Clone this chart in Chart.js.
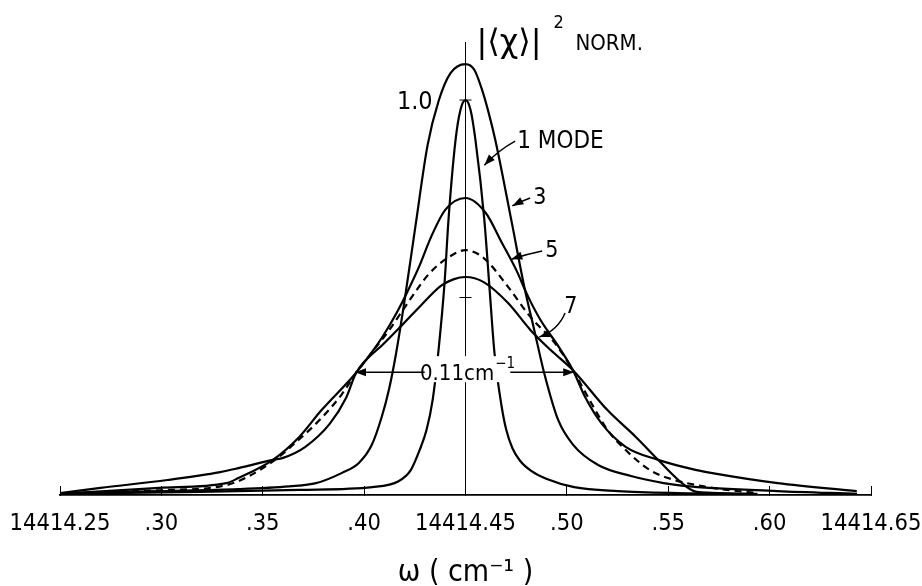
<!DOCTYPE html>
<html>
<head>
<meta charset="utf-8">
<script src="https://cdn.jsdelivr.net/npm/chart.js@4.4.0/dist/chart.umd.min.js"></script>
<style>
  html, body { margin: 0; padding: 0; background: #fff; }
</style>
</head>
<body>
<canvas id="chart" width="922" height="586"></canvas>
<script>
// axis ticks
const xTicks  = [14414.25, 14414.30, 14414.35, 14414.40, 14414.45, 14414.50, 14414.55, 14414.60, 14414.65];
const xLabels = ['14414.25', '.30', '.35', '.40', '14414.45', '.50', '.55', '.60', '14414.65'];
const yTicks  = [0.5, 1.0];
const yTickLabels = ['', '1.0'];

// 1 mode
const w1 = [14414.251, 14414.319, 14414.368, 14414.404, 14414.417, 14414.423, 14414.4274, 14414.4308, 14414.4338, 14414.4367, 14414.4397, 14414.4416, 14414.4451, 14414.4475, 14414.450, 14414.4525, 14414.4549, 14414.4593, 14414.4618, 14414.4643, 14414.4677, 14414.4701, 14414.4731, 14414.4770, 14414.4824, 14414.4898, 14414.5036, 14414.5252, 14414.5547, 14414.5891];
const v1 = [0.003, 0.008, 0.013, 0.020, 0.035, 0.063, 0.114, 0.165, 0.241, 0.367, 0.539, 0.696, 0.899, 0.975, 1.000, 0.975, 0.899, 0.696, 0.527, 0.359, 0.228, 0.165, 0.119, 0.086, 0.061, 0.041, 0.020, 0.010, 0.005, 0.003];

// 3 modes
const w3 = [14414.250, 14414.266, 14414.299, 14414.338, 14414.363, 14414.3763, 14414.3891, 14414.3974, 14414.4038, 14414.4087, 14414.4122, 14414.4156, 14414.4200, 14414.4254, 14414.4313, 14414.4367, 14414.4426, 14414.450, 14414.4544, 14414.4579, 14414.4613, 14414.4647, 14414.4726, 14414.4790, 14414.4839, 14414.4888, 14414.4957, 14414.5031, 14414.5154, 14414.5316, 14414.5478, 14414.5576, 14414.6038, 14414.6431];
const v3 = [0.003, 0.006, 0.010, 0.015, 0.022, 0.030, 0.056, 0.081, 0.127, 0.198, 0.266, 0.354, 0.494, 0.684, 0.886, 0.997, 1.068, 1.091, 1.076, 1.030, 0.970, 0.899, 0.696, 0.527, 0.418, 0.309, 0.190, 0.127, 0.076, 0.048, 0.030, 0.023, 0.010, 0.003];

// 5 modes
const w5 = [14414.250, 14414.270, 14414.303, 14414.329, 14414.338, 14414.355, 14414.360, 14414.371, 14414.383, 14414.391, 14414.396, 14414.402, 14414.409, 14414.416, 14414.421, 14414.427, 14414.433, 14414.440, 14414.450, 14414.460, 14414.468, 14414.475, 14414.481, 14414.487, 14414.496, 14414.503, 14414.509, 14414.517, 14414.529, 14414.545, 14414.564, 14414.571, 14414.604, 14414.643];
const v5 = [0.005, 0.018, 0.038, 0.058, 0.068, 0.089, 0.094, 0.122, 0.180, 0.245, 0.309, 0.349, 0.400, 0.461, 0.511, 0.577, 0.653, 0.722, 0.752, 0.714, 0.638, 0.570, 0.501, 0.443, 0.375, 0.316, 0.248, 0.182, 0.122, 0.089, 0.063, 0.056, 0.030, 0.010];

// 7 modes
const w7 = [14414.250, 14414.266, 14414.299, 14414.332, 14414.338, 14414.355, 14414.368, 14414.379, 14414.396, 14414.401, 14414.409, 14414.419, 14414.428, 14414.438, 14414.444, 14414.450, 14414.459, 14414.471, 14414.482, 14414.492, 14414.503, 14414.520, 14414.534, 14414.545, 14414.555, 14414.564, 14414.594];
const v7 = [0.003, 0.008, 0.018, 0.030, 0.043, 0.089, 0.147, 0.215, 0.309, 0.342, 0.380, 0.432, 0.480, 0.530, 0.546, 0.552, 0.539, 0.486, 0.418, 0.367, 0.316, 0.215, 0.147, 0.089, 0.038, 0.008, 0.003];

// dashed curve
const wD = [14414.250, 14414.299, 14414.332, 14414.355, 14414.366, 14414.379, 14414.389, 14414.396, 14414.404, 14414.412, 14414.422, 14414.432, 14414.442, 14414.450, 14414.459, 14414.471, 14414.482, 14414.494, 14414.503, 14414.512, 14414.520, 14414.529, 14414.541, 14414.553, 14414.564, 14414.579, 14414.594];
const vD = [0.003, 0.012, 0.025, 0.085, 0.132, 0.195, 0.255, 0.309, 0.362, 0.415, 0.490, 0.560, 0.603, 0.620, 0.600, 0.527, 0.451, 0.385, 0.316, 0.233, 0.165, 0.114, 0.063, 0.038, 0.025, 0.013, 0.005];

const FONT = '"DejaVu Sans Condensed", "DejaVu Sans", sans-serif';

const pts = (w, v) => w.map((x, i) => ({ x, y: v[i] }));

function arrow(c, x0, y0, cx, cy, x1, y1) {
  c.beginPath();
  c.moveTo(x0, y0);
  c.quadraticCurveTo(cx, cy, x1, y1);
  c.stroke();
  const a = Math.atan2(y1 - cy, x1 - cx);
  const L = 11, W = 4;
  c.beginPath();
  c.moveTo(x1, y1);
  c.lineTo(x1 - L * Math.cos(a) + W * Math.sin(a), y1 - L * Math.sin(a) - W * Math.cos(a));
  c.lineTo(x1 - L * Math.cos(a) - W * Math.sin(a), y1 - L * Math.sin(a) + W * Math.cos(a));
  c.closePath();
  c.fill();
}

// center axis + labels
const annot = {
  id: 'annot',
  beforeDatasetsDraw(chart) {
    const c = chart.ctx, xs = chart.scales.x, ys = chart.scales.y;
    const x0 = xs.getPixelForValue(14414.45);
    c.save();
    c.strokeStyle = '#000';
    c.lineWidth = 1;
    c.beginPath();
    c.moveTo(x0, ys.getPixelForValue(ys.max));
    c.lineTo(x0, ys.getPixelForValue(0));
    c.stroke();
    yTicks.forEach((v, i) => {
      const y = ys.getPixelForValue(v);
      c.beginPath();
      c.moveTo(x0 - 6, y);
      c.lineTo(x0 + 6, y);
      c.stroke();
      if (yTickLabels[i]) {
        c.fillStyle = '#000';
        c.font = '25px ' + FONT;
        c.textAlign = 'right';
        c.textBaseline = 'middle';
        c.fillText(yTickLabels[i], xs.getPixelForValue(14414.4338), y + 2);
      }
    });
    c.restore();
  },
  afterDatasetsDraw(chart) {
    const c = chart.ctx, xs = chart.scales.x, ys = chart.scales.y;
    const P = (w, v) => [xs.getPixelForValue(14414 + w), ys.getPixelForValue(v)];
    c.save();
    c.fillStyle = '#000';
    c.strokeStyle = '#000';
    c.lineWidth = 1.5;
    c.textBaseline = 'alphabetic';
    c.textAlign = 'left';

    // y-axis title
    let [tx, ty] = P(0.4554, 1.122);
    c.font = '32px "DejaVu Sans", sans-serif';
    const head = '|⟨χ⟩|';
    c.fillText(head, tx, ty);
    const hw = c.measureText(head).width;
    c.font = '18px ' + FONT;
    c.fillText('2', tx + hw + 12, ty - 24);
    c.font = '22px ' + FONT;
    c.fillText('NORM.', tx + hw + 34, ty - 2);

    // curve labels
    c.font = '24px ' + FONT;
    [tx, ty] = P(0.4755, 0.878); c.fillText('1 MODE', tx, ty);
    c.font = '23px ' + FONT;
    [tx, ty] = P(0.4834, 0.737); c.fillText('3', tx, ty);
    [tx, ty] = P(0.4893, 0.603); c.fillText('5', tx, ty);
    [tx, ty] = P(0.4987, 0.461); c.fillText('7', tx, ty);

    const A = (a, b, m, d, e, f) => {
      const p0 = P(a, b), p1 = P(m, d), p2 = P(e, f);
      arrow(c, p0[0], p0[1], p1[0], p1[1], p2[0], p2[1]);
    };
    A(0.4745, 0.896, 0.4662, 0.873, 0.4593, 0.835);
    A(0.4819, 0.752, 0.4775, 0.744, 0.4731, 0.732);
    A(0.4878, 0.618, 0.4800, 0.610, 0.4726, 0.597);
    A(0.4991, 0.461, 0.4957, 0.418, 0.4864, 0.400);

    // width marker
    const [, ly] = P(0.3955, 0.311);
    const [cx] = P(0.4500, 0.311);
    c.font = '22px ' + FONT;
    const main = '0.11cm';
    const wMain = c.measureText(main).width;
    c.font = '15px ' + FONT;
    const wSup = c.measureText('−1').width;
    const total = wMain + wSup + 1;
    const left = cx - total / 2 + 2;
    c.fillStyle = '#fff';
    c.fillRect(left - 2, ly - 16, total + 4, 26);
    c.fillStyle = '#000';
    c.font = '22px ' + FONT;
    c.fillText(main, left, ly + 8);
    c.font = '15px ' + FONT;
    c.fillText('−1', left + wMain + 1, ly - 4);
    A(0.4299, 0.311, 0.4127, 0.311, 0.3955, 0.311);
    A(0.4721, 0.311, 0.4880, 0.311, 0.5036, 0.311);
    c.restore();
  }
};

const line = (w, v, dash) => ({
  data: pts(w, v),
  borderColor: '#000',
  borderWidth: 2.2,
  borderDash: dash || [],
  pointRadius: 0,
  fill: false,
  cubicInterpolationMode: 'monotone'
});

new Chart(document.getElementById('chart').getContext('2d'), {
  type: 'line',
  data: {
    datasets: [
      line(w1, v1),
      line(w3, v3),
      line(w5, v5),
      line(wD, vD, [7, 5]),
      line(w7, v7)
    ]
  },
  options: {
    responsive: false,
    animation: false,
    layout: { padding: { left: 60, right: 51, top: 42, bottom: 0 } },
    plugins: { legend: { display: false }, tooltip: { enabled: false } },
    scales: {
      x: {
        type: 'linear',
        min: 14414.25,
        max: 14414.65,
        afterBuildTicks: (s) => { s.ticks = xTicks.map(v => ({ value: v })); },
        afterFit: (s) => { s.height = 91; s.paddingLeft = 0; s.paddingRight = 0; },
        border: { display: true, color: '#000', width: 1.8 },
        grid: { drawOnChartArea: false, drawTicks: true, tickLength: -9, color: '#000', lineWidth: 1 },
        ticks: {
          autoSkip: false,
          maxRotation: 0,
          color: '#000',
          padding: 24,
          font: { family: FONT, size: 23.5 },
          callback: (v, i) => xLabels[i]
        },
        title: {
          display: true,
          text: 'ω ( cm⁻¹ )',
          color: '#000',
          font: { family: FONT, size: 30, lineHeight: 1 },
          padding: { top: 0, bottom: -2 }
        }
      },
      y: { display: false, min: 0, max: 1.147 }
    }
  },
  plugins: [annot]
});
</script>
</body>
</html>
